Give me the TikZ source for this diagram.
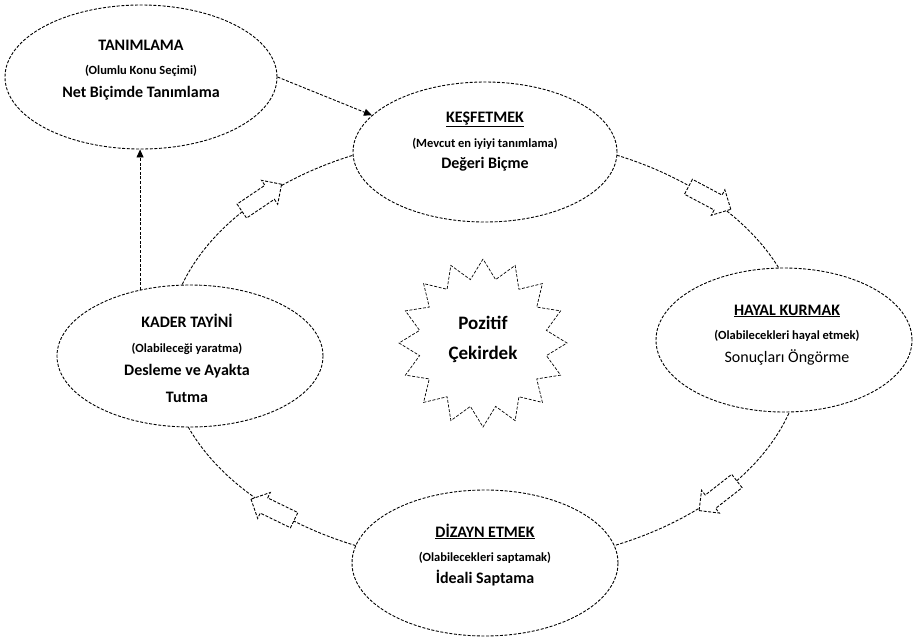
\documentclass[tikz,border=0pt]{standalone}
\usepackage{fontspec}
\setmainfont{Carlito}
\usetikzlibrary{shapes.geometric,shapes.arrows,arrows.meta}
\begin{document}
\begin{tikzpicture}[x=1pt,y=-1pt,
  dsh/.style={dash pattern=on 3pt off 1.6pt, line width=0.9pt},
  stage/.style={ellipse, draw, dsh, fill=white, inner sep=0pt},
  ttl/.style={anchor=base, font=\bfseries\fontsize{16}{19}\selectfont},
  sub/.style={anchor=base, font=\bfseries\fontsize{12.5}{15}\selectfont},
  txt/.style={anchor=base, font=\bfseries\fontsize{16}{19}\selectfont},
  txtr/.style={anchor=base, font=\fontsize{16}{19}\selectfont},
  blk/.style={single arrow, draw, dsh, fill=white, minimum height=48pt,
    single arrow head extend=6pt, inner xsep=0pt, inner ysep=8pt},
  conn/.style={dsh, -{Triangle[length=8pt,width=7pt]}}
]
\useasboundingbox (0,0) rectangle (916,641);
% cycle
\draw[dsh] (485,350) ellipse [x radius=318pt, y radius=214pt];
% block arrows along the cycle
\node[blk, rotate=34] (a1) at ({485+318*cos(135.5)},{350-214*sin(135.5)}) {};
\node[blk, rotate=-28] (a2) at ({485+318*cos(46)},{350-214*sin(46)}) {};
\node[blk, rotate=-142] (a3) at ({485+318*cos(-42)},{350-214*sin(-42)}) {};
\node[blk, rotate=154] (a4) at ({485+318*cos(-131)},{350-214*sin(-131)}) {};
% stages
\node[stage, minimum width=272pt, minimum height=144pt] (tan) at (141,77) {};
\node[stage, minimum width=264pt, minimum height=140pt] (kes) at (485,152) {};
\node[stage, minimum width=256pt, minimum height=144pt] (hay) at (784,340) {};
\node[stage, minimum width=266pt, minimum height=142pt] (kad) at (190,356) {};
\node[stage, minimum width=266pt, minimum height=146pt] (diz) at (485,563) {};
% core
\node[star, star points=16, star point ratio=1.3, minimum size=168pt,
  draw, dsh, line width=0.7pt, inner sep=0pt] (core) at (483,343) {};
\node[anchor=base, font=\bfseries\fontsize{19}{22}\selectfont] (core1) at (483,329) {Pozitif};
\node[anchor=base, font=\bfseries\fontsize{19}{22}\selectfont] (core2) at (483,359) {Çekirdek};
% texts
\node[ttl] (tan1) at (141,50) {TANIMLAMA};
\node[sub] (tan2) at (141,74) {(Olumlu Konu Seçimi)};
\node[txt] (tan3) at (141,97) {Net Biçimde Tanımlama};
\node[ttl] (kes1) at (485,122) {\underline{KEŞFETMEK}};
\node[sub] (kes2) at (485,147) {(Mevcut en iyiyi tanımlama)};
\node[txt] (kes3) at (485,168) {Değeri Biçme};
\node[ttl] (hay1) at (787,315) {\underline{HAYAL KURMAK}};
\node[sub] (hay2) at (787,339) {(Olabilecekleri hayal etmek)};
\node[txtr] (hay3) at (787,362) {Sonuçları Öngörme};
\node[ttl] (kad1) at (187,327) {KADER TAYİNİ};
\node[sub] (kad2) at (187,352) {(Olabileceği yaratma)};
\node[txt] (kad3) at (187,375) {Desleme ve Ayakta};
\node[txt] (kad4) at (187,402) {Tutma};
\node[ttl] (diz1) at (485,537) {\underline{DİZAYN ETMEK}};
\node[sub] (diz2) at (485,561) {(Olabilecekleri saptamak)};
\node[txt] (diz3) at (485,583) {İdeali Saptama};
% connectors
\draw[conn] (tan.east) -- (kes.162);
\draw[conn] (kad.127) -- (kad.127 |- tan.south);
\end{tikzpicture}
\end{document}
